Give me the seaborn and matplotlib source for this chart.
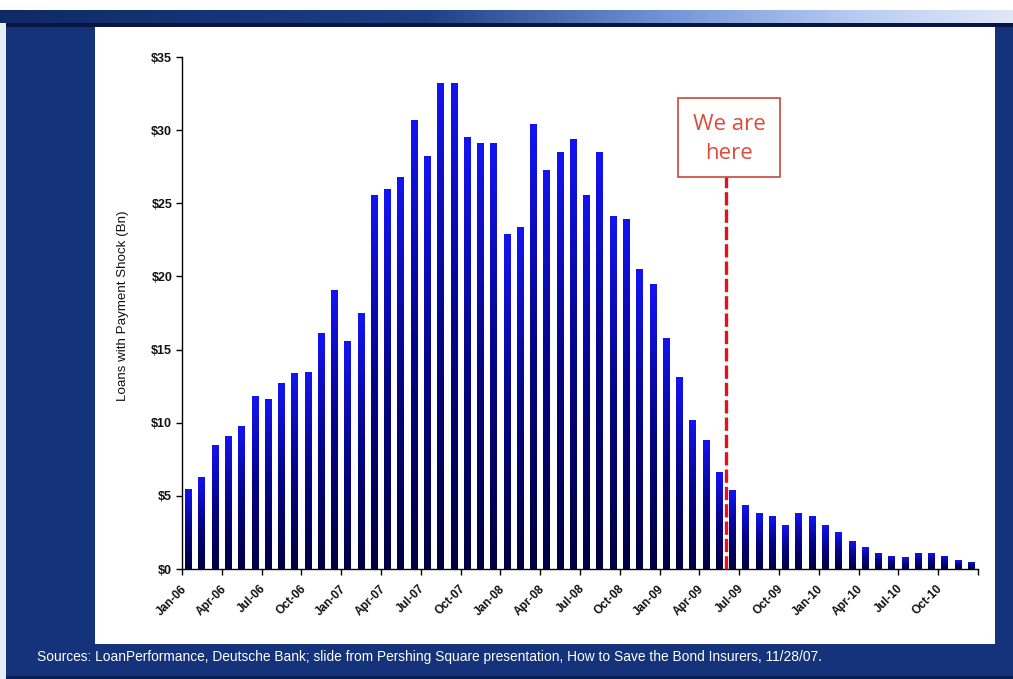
import numpy as np
import pandas as pd
import matplotlib
matplotlib.use("Agg")
import matplotlib.pyplot as plt
import matplotlib.transforms as mtransforms
from matplotlib.patches import Rectangle
from matplotlib.colors import LinearSegmentedColormap
import seaborn as sns

# ---------------- data ----------------
months = pd.date_range("2006-01-01", periods=60, freq="MS").strftime("%b-%y").tolist()
loans_bn = [5.5, 6.3, 8.5, 9.1, 9.8, 11.8, 11.6, 12.7, 13.4, 13.5, 16.1, 19.1,
            15.6, 17.5, 25.6, 26.0, 26.8, 30.7, 28.2, 33.2, 33.2, 29.5, 29.1, 29.1,
            22.9, 23.4, 30.4, 27.3, 28.5, 29.4, 25.6, 28.5, 24.1, 23.9, 20.5, 19.5,
            15.8, 13.1, 10.2, 8.8, 6.6, 5.4, 4.4, 3.8, 3.6, 3.0, 3.8, 3.6,
            3.0, 2.5, 1.9, 1.5, 1.1, 0.9, 0.8, 1.1, 1.1, 0.9, 0.6, 0.5]
y_ticks = [0, 5, 10, 15, 20, 25, 30, 35]
y_tick_labels = ["$0", "$5", "$10", "$15", "$20", "$25", "$30", "$35"]
marker_month = "May-09"
marker_text = "We are\nhere"
source_text = ("Sources: LoanPerformance, Deutsche Bank; slide from Pershing Square "
               "presentation, How to Save the Bond Insurers, 11/28/07.")

df = pd.DataFrame({"month": months, "loans": loans_bn})

# ---------------- figure ----------------
sns.set_theme(style="white")
plt.rcParams["font.family"] = ["Liberation Sans", "DejaVu Sans"]

W, H = 1013, 679
fig = plt.figure(figsize=(W / 100, H / 100), dpi=100)
navy = "#15337a"
fig.patch.set_facecolor(navy)

def fx(px):
    return px / W

def fy(py):
    return 1 - py / H

bg = dict(transform=fig.transFigure, edgecolor="none", zorder=-5)
# top white strip
fig.patches.append(Rectangle((0, fy(10)), 1, 10 / H, facecolor="white", **bg))
# dark line under gradient
fig.patches.append(Rectangle((0, fy(26.5)), 1, 3.5 / H, facecolor="#0a1440", **bg))
# thin light strip on the left
fig.patches.append(Rectangle((0, 0), fx(6), fy(10), facecolor="#e8ecf4", **bg))
# dark strip at the bottom
fig.patches.append(Rectangle((fx(6), 0), 1, 3 / H, facecolor="#0c1f55", **bg))
# white panel
fig.patches.append(Rectangle((fx(95), fy(644)), fx(900), (644 - 27) / H,
                             facecolor="white", **bg))

# gradient bar at the top
grad_ax = fig.add_axes([0, fy(23), 1, 13 / H])
grad_ax.set_zorder(1)
grad_cmap = LinearSegmentedColormap.from_list(
    "hdr", [(0, "#0f2a66"), (0.42, "#1d3f86"), (0.65, "#6f92d6"), (0.85, "#b9cdf2"), (1, "#dfe8f8")])
grad_ax.imshow(np.linspace(0, 1, 256)[None, :], aspect="auto", cmap=grad_cmap, extent=[0, 1, 0, 1])
grad_ax.axis("off")

ax = fig.add_axes([fx(182), fy(569), fx(978 - 182), (569 - 57) / H])
ax.set_zorder(2)
ax.set_facecolor("none")

sns.barplot(data=df, x="month", y="loans", color="#1010e0", width=0.52,
            saturation=1, ax=ax, zorder=2)

# vertical gradient inside each bar
bar_cmap = LinearSegmentedColormap.from_list("bar", ["#000042", "#050588", "#1414f2"])
gradient = np.linspace(0, 1, 256)[:, None]
for p in ax.patches:
    x0, y0 = p.get_x(), p.get_y()
    w, h = p.get_width(), p.get_height()
    im = ax.imshow(gradient, aspect="auto", cmap=bar_cmap, origin="lower",
                   extent=[x0, x0 + w, y0, y0 + h], zorder=3)
    im.set_clip_path(p)

ax.set_xlim(-0.5, len(months) - 0.5)
ax.set_ylim(0, 35)

# y axis
ax.set_yticks(y_ticks)
ax.set_yticklabels(y_tick_labels, fontsize=9, fontweight="bold", color="#111111")
ax.tick_params(axis="y", which="major", direction="out", length=4, width=1,
               color="black", left=True, pad=3)
ax.set_ylabel("Loans with Payment Shock (Bn)", fontsize=9.6, color="#111111")
ax.yaxis.set_label_coords(-0.0666, 0.514)

# x axis: labels every 3 months, tick marks between categories
pos = np.arange(0, len(months), 3)
ax.set_xticks(pos)
ax.set_xticklabels([months[i] for i in pos], rotation=45, ha="right", va="center",
                   rotation_mode="anchor", fontsize=8.5, fontweight="bold", color="#111111")
ax.tick_params(axis="x", which="major", length=0, pad=13)
shift = mtransforms.ScaledTranslation(-4 / 100, 0, fig.dpi_scale_trans)
for lbl in ax.get_xticklabels():
    lbl.set_transform(lbl.get_transform() + shift)
ax.set_xticks(np.arange(-0.5, len(months), 3), minor=True)
ax.tick_params(axis="x", which="minor", direction="out", length=4, width=1,
               color="black", bottom=True)
ax.set_xlabel("")

for s in ["top", "right"]:
    ax.spines[s].set_visible(False)
for s in ["left", "bottom"]:
    ax.spines[s].set_color("black")
    ax.spines[s].set_linewidth(1)
    ax.spines[s].set_zorder(5)

# "We are here" marker
mx = months.index(marker_month) + 0.5
box_x0, box_x1 = mx - 3.6, mx + 4.1
box_y0, box_y1 = 26.8, 32.2
ax.plot([mx, mx], [0, box_y0], color="#e0141e", linewidth=2.4,
        linestyle=(0, (4.0, 1.2)), zorder=6, clip_on=False)
ax.add_patch(Rectangle((box_x0, box_y0), box_x1 - box_x0, box_y1 - box_y0,
                       facecolor="white", edgecolor="#c8463c", linewidth=1.2, zorder=6))
ax.text((box_x0 + box_x1) / 2, (box_y0 + box_y1) / 2 - 0.1, marker_text,
        ha="center", va="center", fontsize=16, color="#e04a3a",
        linespacing=1.45, zorder=7, family=["Open Sans", "DejaVu Sans"])

# source line
fig.text(fx(37), fy(657), source_text, color="white", fontsize=9.9,
         ha="left", va="center")

fig.savefig("out.png", dpi=100, facecolor=fig.get_facecolor())
